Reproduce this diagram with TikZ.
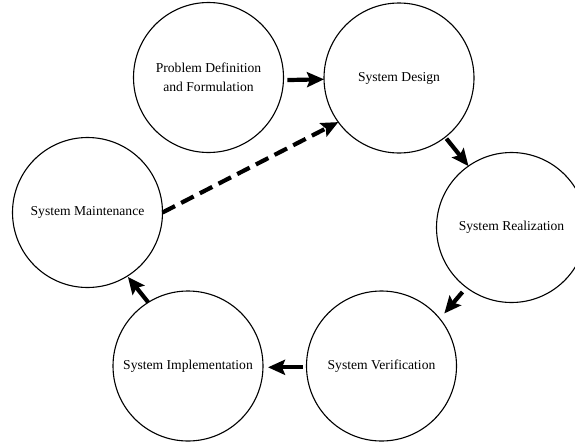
\documentclass[tikz,border=0pt]{standalone}
\usepackage{fontspec}
\setmainfont{Liberation Serif}
\usetikzlibrary{arrows.meta}
\begin{document}
\begin{tikzpicture}[x=1pt,y=-1pt,
  stage/.style={circle, draw, line width=1.1pt, minimum size=150pt,
    inner sep=0pt, outer sep=0pt, align=center,
    font=\fontsize{13.6pt}{19.5pt}\selectfont},
  flow/.style={line width=4.2pt,
    -{Stealth[length=17pt,width=15pt,inset=3pt]}},
  feedback/.style={flow, dash pattern=on 14pt off 7pt}]
  \useasboundingbox (0,0) rectangle (575,442);

  % the six life-cycle stages
  \node[stage] (P) at (208.5,77.5) {Problem Definition\\and Formulation};
  \node[stage] (D) at (399,78)     {System Design};
  \node[stage] (R) at (511.5,227.5) {System Realization};
  \node[stage] (V) at (381.5,366)  {System Verification};
  \node[stage] (I) at (188,366)    {System Implementation};
  \node[stage] (M) at (87.5,212.5) {System Maintenance};

  % forward flow between stages
  \draw[flow, shorten <=4pt] (P.-2) -- (D.181);
  \draw[flow, shorten <=2pt] (D.-52) -- (R.125);
  \draw[flow, shorten <=6pt, shorten >=7pt] (R.233) -- (V.39);
  \draw[flow, shorten <=3.5pt, shorten >=5pt] (V.181) -- (I.-1);
  \draw[flow, shorten >=1pt] (I.122) -- (M.-58);

  % maintenance feeds back into design
  \draw[feedback] (M.0) -- (D.216);
\end{tikzpicture}
\end{document}
